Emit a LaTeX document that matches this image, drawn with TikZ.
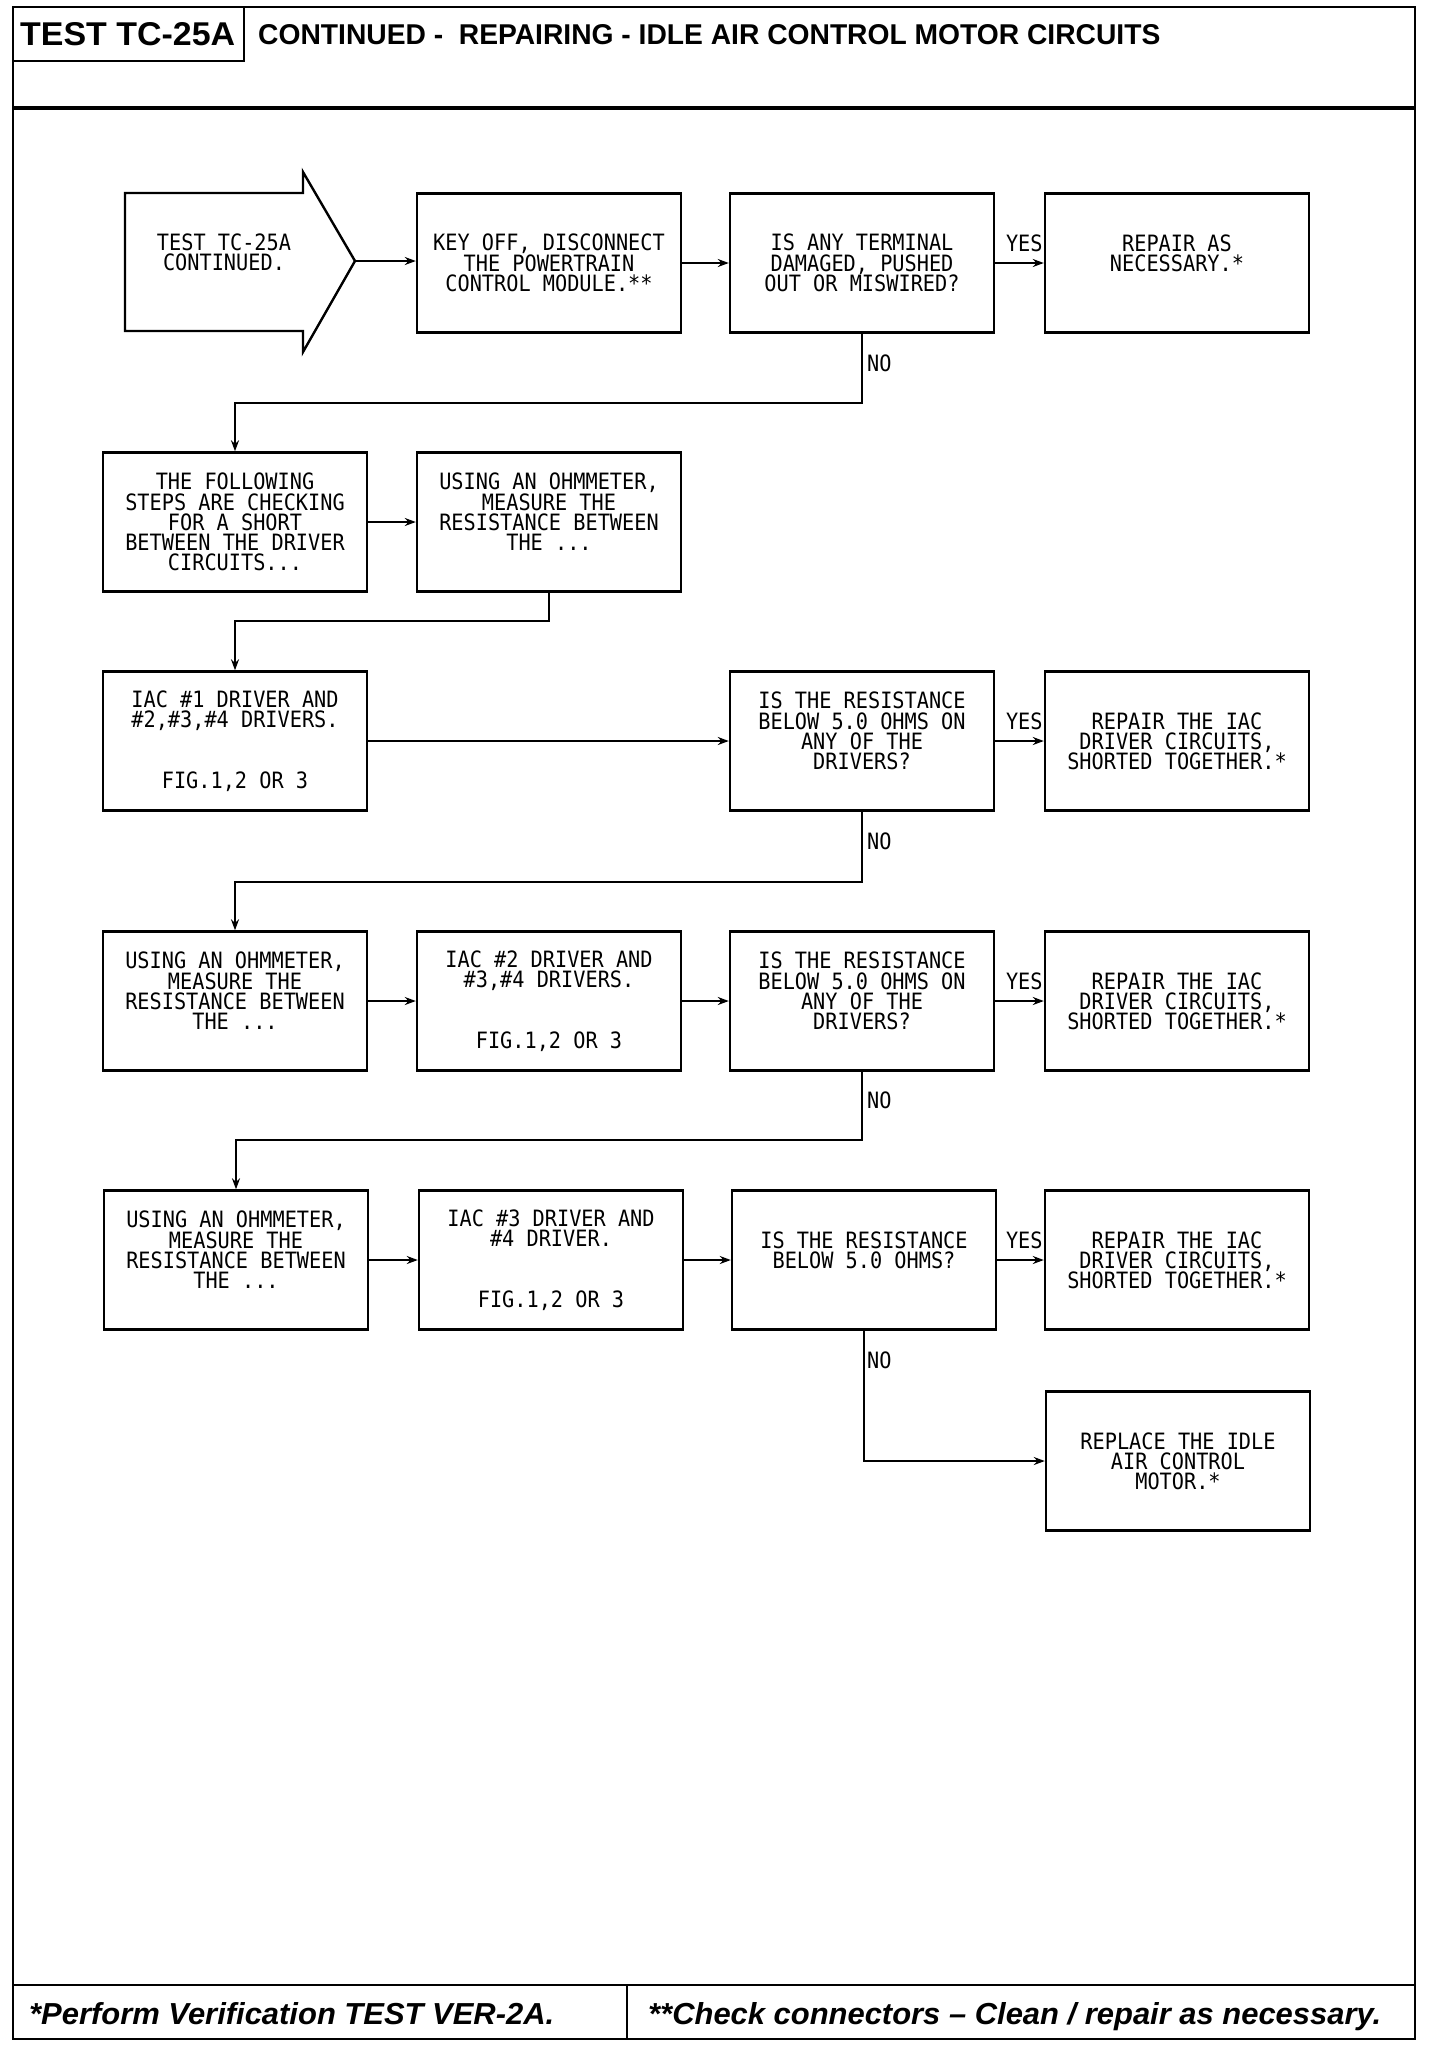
\documentclass[tikz,border=0pt]{standalone}
\usepackage{fontspec}
\usepackage{graphicx}
\usetikzlibrary{arrows.meta}
\newfontfamily\boxfont[FakeStretch=0.9]{DejaVu Sans Mono}
\newfontfamily\hdfont{Liberation Sans}
\newcommand\bxf{\boxfont\fontsize{22.5pt}{20.2pt}\selectfont}
\begin{document}
\begin{tikzpicture}[x=1pt,y=-1pt,
  box/.style={draw, line width=2.4pt, minimum width=264pt, minimum height=139pt, inner sep=0pt, align=center, font=\bxf},
  lbl/.style={inner sep=1pt, font=\bxf, align=center},
  conn/.style={line width=2pt, -{Stealth[length=11pt,width=8pt]}},
  frame/.style={line width=2.6pt},
  txt/.style={inner sep=0pt, anchor=base west}]
\useasboundingbox (0,0) rectangle (1440,2046);
% frame
\draw[frame] (13,7) rectangle (1415,2039);
\draw[line width=3.5pt] (13,108) -- (1415,108);
\draw[frame] (13,61) -- (244,61) -- (244,7);
\draw[frame] (13,1985) -- (1415,1985);
\draw[frame] (627,1985) -- (627,2039);
\node[txt] (ttl) at (20,45) {\resizebox{215pt}{23pt}{\hdfont\bfseries TEST TC-25A}};
\node[txt] (sub) at (258,44) {\resizebox{902pt}{20pt}{\hdfont\bfseries CONTINUED -\ \ REPAIRING - IDLE AIR CONTROL MOTOR CIRCUITS}};
\node[txt] (f1) at (29,2024) {\resizebox{525pt}{22pt}{\hdfont\bfseries\itshape *Perform Verification TEST VER-2A.}};
\node[txt] (f2) at (648,2024) {\resizebox{733pt}{22pt}{\hdfont\bfseries\itshape **Check connectors – Clean / repair as necessary.}};
% start arrow
\draw[line width=2.4pt, line join=miter] (125,193) -- (303,193) -- (303,172) -- (355,261) -- (303,352) -- (303,331) -- (125,331) -- cycle;
\coordinate (tip) at (355,261);
\node[lbl] (start) at (224,252) {TEST TC-25A\\CONTINUED.};
% row 1
\node[box] (keyoff) at (549,263) {KEY OFF, DISCONNECT\\THE POWERTRAIN\\CONTROL MODULE.**};
\node[box] (q1) at (862,263) {IS ANY TERMINAL\\DAMAGED, PUSHED\\OUT OR MISWIRED?};
\node[box] (r1) at (1177,263) {REPAIR AS\\NECESSARY.*\\~};
% row 2
\node[box] (follow) at (235,522) {THE FOLLOWING\\STEPS ARE CHECKING\\FOR A SHORT\\BETWEEN THE DRIVER\\CIRCUITS...};
\node[box] (m1) at (549,522) {USING AN OHMMETER,\\MEASURE THE\\RESISTANCE BETWEEN\\THE ...\\~};
% row 3
\node[box] (d1) at (235,741) {IAC \#1 DRIVER AND\\\#2,\#3,\#4 DRIVERS.\\~\\~\\FIG.1,2 OR 3};
\node[box] (q2) at (862,741) {IS THE RESISTANCE\\BELOW 5.0 OHMS ON\\ANY OF THE\\DRIVERS?\\~};
\node[box] (r2) at (1177,741) {REPAIR THE IAC\\DRIVER CIRCUITS,\\SHORTED TOGETHER.*};
% row 4
\node[box] (m2) at (235,1001) {USING AN OHMMETER,\\MEASURE THE\\RESISTANCE BETWEEN\\THE ...\\~};
\node[box] (d2) at (549,1001) {IAC \#2 DRIVER AND\\\#3,\#4 DRIVERS.\\~\\~\\FIG.1,2 OR 3};
\node[box] (q3) at (862,1001) {IS THE RESISTANCE\\BELOW 5.0 OHMS ON\\ANY OF THE\\DRIVERS?\\~};
\node[box] (r3) at (1177,1001) {REPAIR THE IAC\\DRIVER CIRCUITS,\\SHORTED TOGETHER.*};
% row 5
\node[box] (m3) at (236,1260) {USING AN OHMMETER,\\MEASURE THE\\RESISTANCE BETWEEN\\THE ...\\~};
\node[box] (d3) at (551,1260) {IAC \#3 DRIVER AND\\\#4 DRIVER.\\~\\~\\FIG.1,2 OR 3};
\node[box] (q4) at (864,1260) {IS THE RESISTANCE\\BELOW 5.0 OHMS?\\~};
\node[box] (r4) at (1177,1260) {REPAIR THE IAC\\DRIVER CIRCUITS,\\SHORTED TOGETHER.*};
% row 6
\node[box] (rep) at (1178,1461) {REPLACE THE IDLE\\AIR CONTROL\\MOTOR.*};
% join levels
\coordinate (j1) at (0,403);
\coordinate (j2) at (0,621);
\coordinate (j3) at (0,882);
\coordinate (j4) at (0,1140);
% connectors
\draw[conn] (tip) -- (tip -| keyoff.west);
\draw[conn] (keyoff) -- (q1);
\draw[conn] (q1) -- (r1);
\draw[conn] (q1.south) -- (q1.south |- j1) -| (follow.north);
\draw[conn] (follow) -- (m1);
\draw[conn] (m1.south) -- (m1.south |- j2) -| (d1.north);
\draw[conn] (d1) -- (q2);
\draw[conn] (q2) -- (r2);
\draw[conn] (q2.south) -- (q2.south |- j3) -| (m2.north);
\draw[conn] (m2) -- (d2);
\draw[conn] (d2) -- (q3);
\draw[conn] (q3) -- (r3);
\draw[conn] (q3.south) -- (q3.south |- j4) -| (m3.north);
\draw[conn] (m3) -- (d3);
\draw[conn] (d3) -- (q4);
\draw[conn] (q4) -- (r4);
\draw[conn] (q4.south) |- (rep.west);
% labels
\node[lbl, anchor=west] (no1) at (866,363) {NO};
\node[lbl, anchor=west] (no2) at (866,841) {NO};
\node[lbl, anchor=west] (no3) at (866,1100) {NO};
\node[lbl, anchor=west] (no4) at (866,1360) {NO};
\node[lbl, anchor=east] (yes1) at ([yshift=20pt]r1.west) {YES};
\node[lbl, anchor=east] (yes2) at ([yshift=20pt]r2.west) {YES};
\node[lbl, anchor=east] (yes3) at ([yshift=20pt]r3.west) {YES};
\node[lbl, anchor=east] (yes4) at ([yshift=20pt]r4.west) {YES};
\end{tikzpicture}
\end{document}
